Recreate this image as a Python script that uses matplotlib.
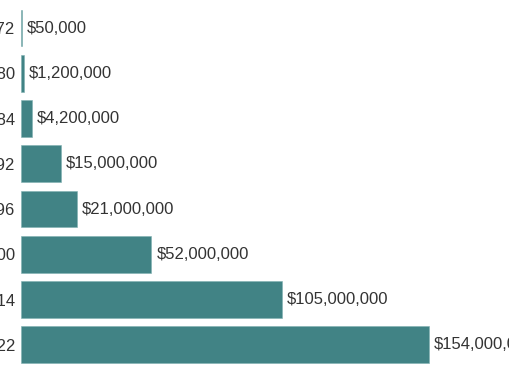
import matplotlib
matplotlib.use("Agg")
import matplotlib.pyplot as plt

# years (the picture crops the first two digits)
years = ["1972", "1980", "1984", "1992", "1996", "2000", "2014", "2022"]
# bar lengths, in millions of dollars
bar_values = [0.4, 1.2, 4.2, 15.2, 21.1, 49.3, 98.6, 154.0]
# labels printed next to the bars
value_labels = ["$50,000", "$1,200,000", "$4,200,000", "$15,000,000",
                "$21,000,000", "$52,000,000", "$105,000,000", "$154,000,000"]

plt.rcParams['font.family'] = ['Liberation Sans', 'DejaVu Sans']

fig = plt.figure(figsize=(5.1, 3.82), dpi=100)
# axes start a bit inside the left edge so the year labels get cut off
ax = fig.add_axes([20.7 / 510, 0, (510 - 20.7) / 510, 1])

pos = list(range(len(years)))
ax.barh(pos, bar_values, height=0.81, color='#418385', edgecolor='#7fb0b1', linewidth=0.4)

for p, v, lab in zip(pos, bar_values, value_labels):
    ax.annotate(lab, (v, p), xytext=(3.6, 0), textcoords='offset points',
                va='center', ha='left', fontsize=12, color='#333333')

ax.set_yticks(pos)
ax.set_yticklabels(years, fontsize=12, color='#333333')
ax.tick_params(axis='y', length=0, pad=3.8)
ax.set_xticks([])
ax.set_xlim(0, (510 - 20.7) / 2.65)
ax.set_ylim(7.822, -0.619)
for s in ax.spines.values():
    s.set_visible(False)

fig.savefig("out.png", dpi=100)
